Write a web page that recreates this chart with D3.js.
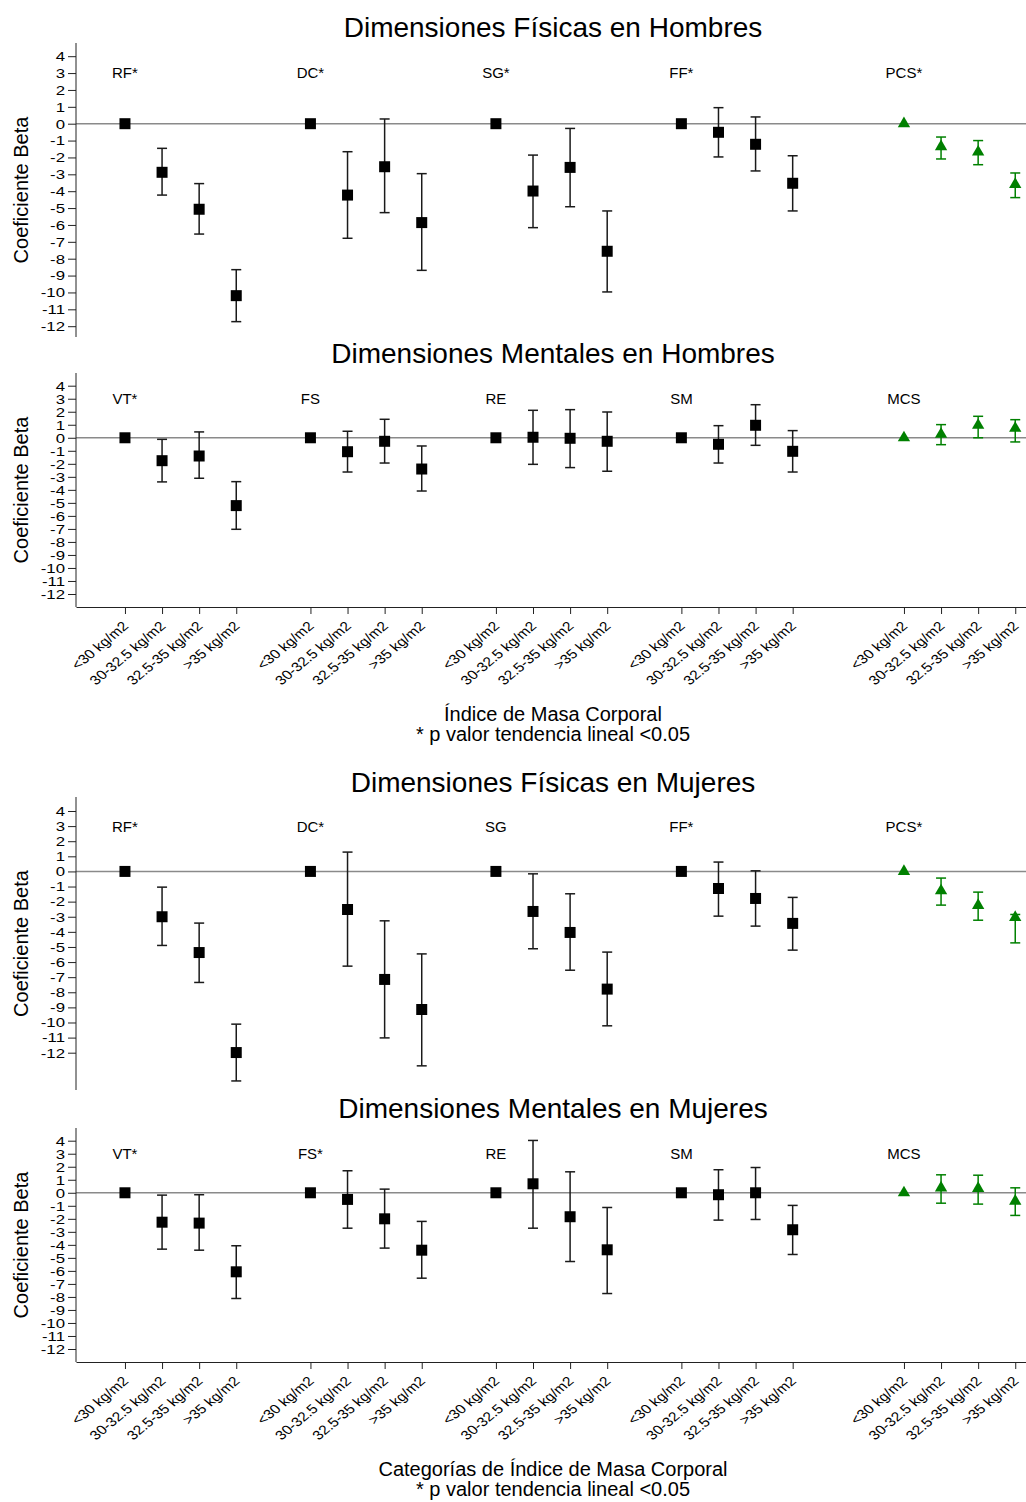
<!DOCTYPE html>
<html>
<head>
<meta charset="utf-8">
<script src="https://cdn.jsdelivr.net/npm/d3@7"></script>
<style>
  body { margin: 0; background: #fff; }
  text { font-family: "Liberation Sans", Arial, Helvetica, sans-serif; fill: #000; }
</style>
</head>
<body>
<div id="chart"></div>
<script>
// categories of BMI, repeated in every group
var catLabels = ["<30 kg/m2", "30-32.5 kg/m2", "32.5-35 kg/m2", ">35 kg/m2"];
var groupStarts = [0, 5, 10, 15, 21];
var yTicks = [4, 3, 2, 1, 0, -1, -2, -3, -4, -5, -6, -7, -8, -9, -10, -11, -12];

var fisHomLabels = ["RF*", "DC*", "SG*", "FF*", "PCS*"];
var menHomLabels = ["VT*", "FS", "RE", "SM", "MCS"];
var fisMujLabels = ["RF*", "DC*", "SG", "FF*", "PCS*"];
var menMujLabels = ["VT*", "FS*", "RE", "SM", "MCS"];

// beta estimates and 95% CI, 4 categories x 5 dimensions
var fisHomEst = [0, -2.88, -5.07, -10.19, 0, -4.23, -2.55, -5.86, 0, -3.99, -2.59, -7.56, 0, -0.51, -1.22, -3.53, 0, -1.36, -1.68, -3.60];
var fisHomLo  = [null, -4.23, -6.54, -11.73, null, -6.79, -5.27, -8.69, null, -6.16, -4.92, -9.97, null, -1.97, -2.80, -5.17, null, -2.09, -2.43, -4.38];
var fisHomHi  = [null, -1.46, -3.55, -8.65, null, -1.66, 0.28, -2.96, null, -1.86, -0.28, -5.17, null, 0.95, 0.40, -1.90, null, -0.79, -1.00, -2.92];

var menHomEst = [0, -1.76, -1.40, -5.21, 0, -1.07, -0.27, -2.40, 0, 0.04, -0.04, -0.27, 0, -0.50, 0.96, -1.04, 0, 0.27, 0.96, 0.73];
var menHomLo  = [null, -3.39, -3.11, -7.03, null, -2.63, -1.94, -4.09, null, -2.04, -2.29, -2.57, null, -1.94, -0.58, -2.63, null, -0.53, 0.0, -0.32];
var menHomHi  = [null, -0.12, 0.45, -3.37, null, 0.50, 1.42, -0.63, null, 2.11, 2.16, 1.98, null, 0.93, 2.54, 0.55, null, 1.01, 1.65, 1.39];

var fisMujEst = [0, -3.00, -5.37, -11.99, 0, -2.52, -7.15, -9.14, 0, -2.65, -4.04, -7.79, 0, -1.13, -1.79, -3.44, 0, -1.28, -2.25, -3.05];
var fisMujLo  = [null, -4.90, -7.35, -13.87, null, -6.27, -11.02, -12.87, null, -5.12, -6.54, -10.22, null, -2.96, -3.62, -5.21, null, -2.23, -3.23, -4.73];
var fisMujHi  = [null, -1.04, -3.42, -10.11, null, 1.28, -3.27, -5.46, null, -0.16, -1.48, -5.34, null, 0.62, 0.04, -1.72, null, -0.44, -1.37, -2.85];

var menMujEst = [0, -2.26, -2.33, -6.07, 0, -0.51, -2.00, -4.41, 0, 0.69, -1.84, -4.38, 0, -0.15, 0.0, -2.84, 0, 0.38, 0.33, -0.64];
var menMujLo  = [null, -4.33, -4.41, -8.12, null, -2.72, -4.25, -6.56, null, -2.72, -5.28, -7.74, null, -2.10, -2.05, -4.74, null, -0.80, -0.87, -1.74];
var menMujHi  = [null, -0.18, -0.15, -4.07, null, 1.69, 0.28, -2.20, null, 4.02, 1.61, -1.13, null, 1.77, 1.94, -0.97, null, 1.38, 1.35, 0.38];

var width = 1026, height = 1502;
var axisX = 76;
var green = "#008000";

var svg = d3.select("#chart").append("svg")
    .attr("width", width)
    .attr("height", height);
svg.append("rect").attr("width", width).attr("height", height).attr("fill", "#fff");

var x = d3.scaleLinear().domain([-1.32, 24.29]).range([axisX, width]);

// x position of every point: group start + category offset
var xPos = [];
groupStarts.forEach(function(g) {
  catLabels.forEach(function(c, j) { xPos.push(g + j); });
});

var panels = [
  {title: "Dimensiones Físicas en Hombres", titleY: 37, top: 43, bottom: 337, y4: 56.2, y12: 326.2,
   labels: fisHomLabels, est: fisHomEst, lo: fisHomLo, hi: fisHomHi, xAxis: false},
  {title: "Dimensiones Mentales en Hombres", titleY: 363, top: 373, bottom: 607, y4: 385.7, y12: 594,
   labels: menHomLabels, est: menHomEst, lo: menHomLo, hi: menHomHi, xAxis: true,
   xTitle: ["Índice de Masa Corporal", "* p valor tendencia lineal  <0.05"]},
  {title: "Dimensiones Físicas en Mujeres", titleY: 792, top: 797, bottom: 1090, y4: 811, y12: 1052.7,
   labels: fisMujLabels, est: fisMujEst, lo: fisMujLo, hi: fisMujHi, xAxis: false},
  {title: "Dimensiones Mentales en Mujeres", titleY: 1118, top: 1128, bottom: 1362, y4: 1140.7, y12: 1349,
   labels: menMujLabels, est: menMujEst, lo: menMujLo, hi: menMujHi, xAxis: true,
   xTitle: ["Categorías de Índice de Masa Corporal", "* p valor tendencia lineal <0.05"]}
];

panels.forEach(function(p) {
  var y = d3.scaleLinear().domain([-12, 4]).range([p.y12, p.y4]);
  var g = svg.append("g");

  g.append("text")
    .attr("x", 553).attr("y", p.titleY)
    .attr("text-anchor", "middle")
    .attr("font-size", "28px")
    .text(p.title);

  // reference line at 0
  g.append("line")
    .attr("x1", axisX).attr("x2", width)
    .attr("y1", y(0)).attr("y2", y(0))
    .attr("stroke", "#8a8a8a").attr("stroke-width", 1.5);

  // y axis
  var yAxis = g.append("g")
    .attr("transform", "translate(" + axisX + ",0)")
    .call(d3.axisLeft(y).tickValues(yTicks).tickSize(8).tickFormat(""));
  yAxis.select(".domain").remove();
  yAxis.selectAll(".tick line").attr("stroke", "#222");
  yAxis.append("line")
    .attr("y1", p.top).attr("y2", p.bottom)
    .attr("stroke", "#222");
  yAxis.selectAll(".tick").append("text")
    .attr("text-anchor", "end")
    .attr("dy", "0.36em")
    .attr("font-size", "12px")
    .attr("transform", "translate(-11,0) scale(1.4,1)")
    .text(function(d) { return String(d); });

  g.append("text")
    .attr("transform", "translate(28," + ((p.top + p.bottom) / 2) + ") rotate(-90)")
    .attr("text-anchor", "middle")
    .attr("font-size", "20px")
    .text("Coeficiente Beta");

  // dimension labels
  g.selectAll(".dimlab").data(p.labels).enter().append("text")
    .attr("x", function(d, i) { return x(groupStarts[i]); })
    .attr("y", y(3))
    .attr("dy", "0.36em")
    .attr("text-anchor", "middle")
    .attr("font-size", "15px")
    .text(function(d) { return d; });

  var pts = p.est.map(function(v, i) {
    return {x: xPos[i], est: v, lo: p.lo[i], hi: p.hi[i], summary: i >= 16};
  });

  // error bars
  var bars = g.selectAll(".bar").data(pts.filter(function(d) { return d.lo !== null; }))
    .enter().append("g")
    .attr("stroke", function(d) { return d.summary ? green : "#1a1a1a"; })
    .attr("stroke-width", 1.5);
  bars.append("line")
    .attr("x1", function(d) { return x(d.x); }).attr("x2", function(d) { return x(d.x); })
    .attr("y1", function(d) { return y(d.lo); }).attr("y2", function(d) { return y(d.hi); });
  bars.append("line")
    .attr("x1", function(d) { return x(d.x) - 5; }).attr("x2", function(d) { return x(d.x) + 5; })
    .attr("y1", function(d) { return y(d.lo); }).attr("y2", function(d) { return y(d.lo); });
  bars.append("line")
    .attr("x1", function(d) { return x(d.x) - 5; }).attr("x2", function(d) { return x(d.x) + 5; })
    .attr("y1", function(d) { return y(d.hi); }).attr("y2", function(d) { return y(d.hi); });

  // markers
  var square = d3.symbol().type(d3.symbolSquare).size(121);
  var tri = d3.symbol().type(d3.symbolTriangle).size(66);
  g.selectAll(".pt").data(pts).enter().append("path")
    .attr("d", function(d) { return d.summary ? tri() : square(); })
    .attr("transform", function(d) { return "translate(" + x(d.x) + "," + y(d.est) + ")"; })
    .attr("fill", function(d) { return d.summary ? green : "#000"; });

  if (p.xAxis) {
    var xAxis = g.append("g")
      .attr("transform", "translate(0," + p.bottom + ")")
      .call(d3.axisBottom(x).tickValues(xPos).tickSize(7).tickSizeOuter(0).tickFormat(""));
    xAxis.select(".domain").attr("stroke", "#222");
    xAxis.selectAll(".tick line").attr("stroke", "#222");
    xAxis.selectAll(".tick").append("text")
      .attr("text-anchor", "end")
      .attr("font-size", "13px")
      .attr("transform", "translate(4,20) scale(1.2,1) rotate(-45)")
      .text(function(d, i) { return catLabels[i % 4]; });

    p.xTitle.forEach(function(t, k) {
      g.append("text")
        .attr("x", 553).attr("y", p.bottom + 114 + k * 20)
        .attr("text-anchor", "middle")
        .attr("font-size", "20px")
        .text(t);
    });
  }
});
</script>
</body>
</html>
